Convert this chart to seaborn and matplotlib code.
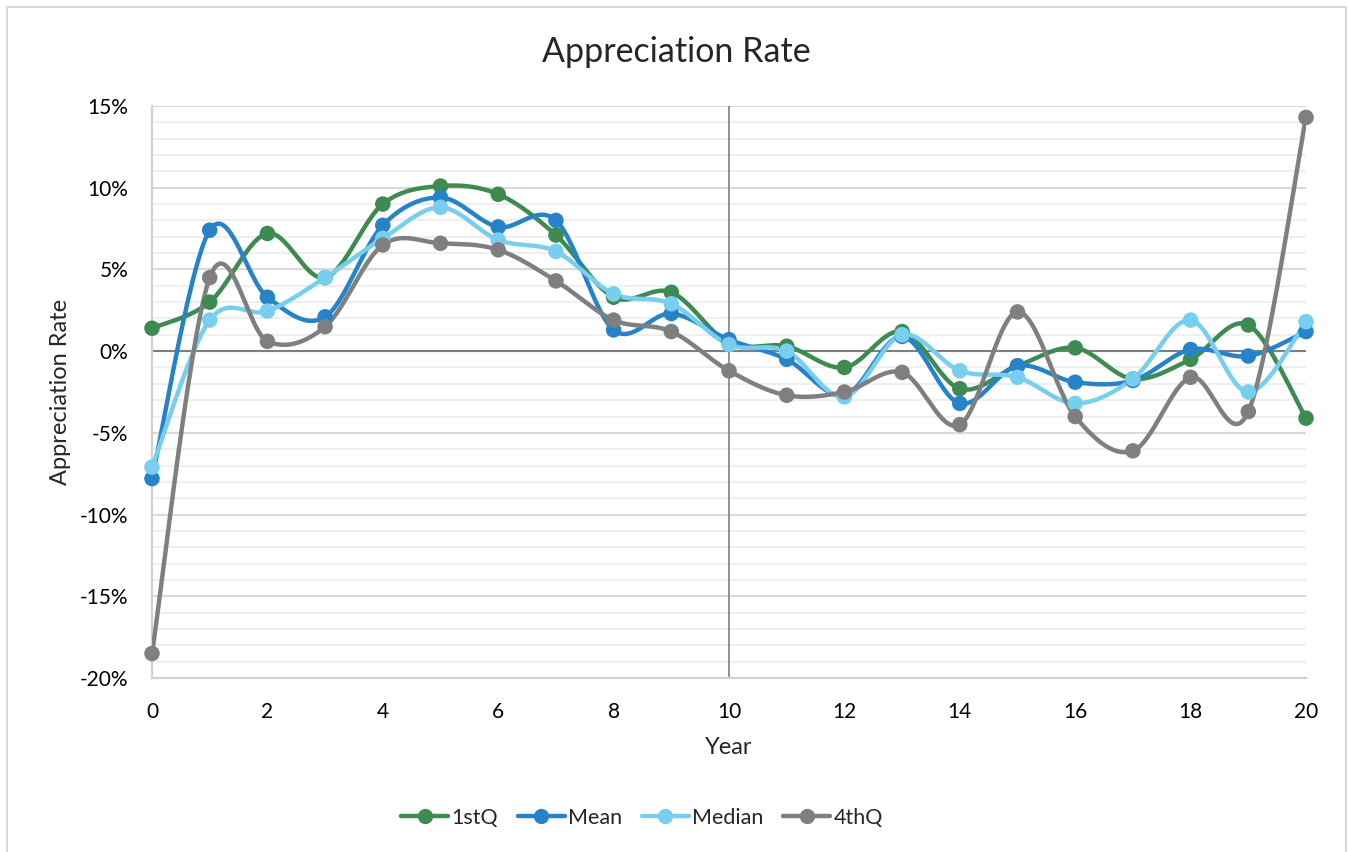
import numpy as np
import pandas as pd
import matplotlib
matplotlib.use("Agg")
import matplotlib.pyplot as plt
from matplotlib.lines import Line2D
from matplotlib.patches import Rectangle
from matplotlib.ticker import FuncFormatter, MultipleLocator
import seaborn as sns

years = list(range(0, 21))
q1 = [1.4, 3.0, 7.2, 4.5, 9.0, 10.1, 9.6, 7.1, 3.3, 3.6, 0.5, 0.3, -1.0, 1.2, -2.3, -0.9, 0.2, -1.7, -0.5, 1.6, -4.1]
mean = [-7.8, 7.4, 3.3, 2.1, 7.7, 9.4, 7.6, 8.0, 1.3, 2.3, 0.7, -0.5, -2.7, 0.9, -3.2, -0.9, -1.9, -1.8, 0.1, -0.3, 1.2]
median = [-7.1, 1.9, 2.45, 4.5, 6.9, 8.8, 6.8, 6.1, 3.5, 2.9, 0.4, 0.0, -2.8, 1.0, -1.2, -1.6, -3.2, -1.7, 1.9, -2.5, 1.8]
q4 = [-18.5, 4.5, 0.6, 1.5, 6.5, 6.6, 6.2, 4.3, 1.9, 1.2, -1.2, -2.7, -2.5, -1.3, -4.5, 2.4, -4.0, -6.1, -1.6, -3.7, 14.3]

series_names = ["1stQ", "Mean", "Median", "4thQ"]
series_values = [q1, mean, median, q4]
colors = ["#3E8B52", "#2783C7", "#77CEEF", "#7F7F7F"]

y_ticks = list(range(-20, 16, 5))
x_ticks = list(range(0, 21, 2))


def smooth(xs, ys, n=30):
    """Excel-like smoothed line (Catmull-Rom Bezier through the points)."""
    p = np.column_stack([xs, ys]).astype(float)
    pts = np.vstack([p[0], p, p[-1]])
    out = []
    t = np.linspace(0, 1, n)[:, None]
    for i in range(1, len(pts) - 2):
        p0, p1, p2, p3 = pts[i - 1], pts[i], pts[i + 1], pts[i + 2]
        c1 = p1 + (p2 - p0) / 6.0
        c2 = p2 - (p3 - p1) / 6.0
        seg = ((1 - t) ** 3) * p1 + 3 * ((1 - t) ** 2) * t * c1 + 3 * (1 - t) * t ** 2 * c2 + t ** 3 * p2
        out.append(seg if i == 1 else seg[1:])
    arr = np.vstack(out)
    return pd.DataFrame({"x": arr[:, 0], "y": arr[:, 1]})


sns.set_theme(style="white")
plt.rcParams["font.family"] = ["Lato", "DejaVu Sans"]

fig = plt.figure(figsize=(13.48, 8.52), dpi=100)
W, H = 1348, 852
ax = fig.add_axes([152 / W, 1 - 678 / H, (1306 - 152) / W, (678 - 106) / H])

# chart border
fig.patches.append(Rectangle((7 / W, -0.02), (1346 - 7) / W, 1 - 7 / H + 0.02,
                             transform=fig.transFigure, fill=False,
                             edgecolor="#D9D9D9", lw=1.5, zorder=0))

ax.set_xlim(0, 20)
ax.set_ylim(-20, 15)
ax.set_xticks(x_ticks)
ax.set_yticks(y_ticks)
ax.yaxis.set_minor_locator(MultipleLocator(1))
ax.yaxis.set_major_formatter(FuncFormatter(lambda v, _: f"{v:.0f}%".replace("\u2212", "-")))
ax.grid(which="minor", axis="y", color="#EFEFEF", lw=1.5, zorder=0)
ax.grid(which="major", axis="y", color="#D9D9D9", lw=1.5, zorder=0)
ax.grid(which="both", axis="x", visible=False)
ax.tick_params(axis="both", which="both", length=0, labelsize=15, colors="#000000")
ax.tick_params(axis="x", pad=17)
ax.tick_params(axis="y", pad=17)
for s in ["top", "right"]:
    ax.spines[s].set_visible(False)
for s in ["left", "bottom"]:
    ax.spines[s].set_color("#D0D0D0")
    ax.spines[s].set_linewidth(1.5)

ax.axhline(0, color="#7F7F7F", lw=1.5, zorder=1)
ax.axvline(10, color="#7F7F7F", lw=1.2, zorder=1)

for name, vals, c in zip(series_names, series_values, colors):
    sm = smooth(years, vals)
    sns.lineplot(data=sm, x="x", y="y", sort=False, estimator=None, color=c,
                 lw=3.2, ax=ax, zorder=3, legend=False)
    sns.scatterplot(x=years, y=vals, color=c, s=125, edgecolor="none",
                    ax=ax, zorder=4, legend=False, clip_on=False)

ax.set_xlabel("Year", fontsize=17)
ax.set_ylabel("Appreciation Rate", fontsize=17)
ax.xaxis.label.set_va("center")
ax.yaxis.label.set_va("center")
ax.xaxis.set_label_coords((729 - 152) / (1306 - 152), -(747 - 678) / (678 - 106))
ax.yaxis.set_label_coords(-(152 - 60) / (1306 - 152), (678 - 392) / (678 - 106))

fig.text(676 / W, 1 - 52 / H, "Appreciation Rate", ha="center", va="center", fontsize=24.5)

handles = [Line2D([0], [0], color=c, lw=3.2, marker="o", markersize=11, markeredgewidth=0)
           for c in colors]
fig.legend(handles, series_names, loc="center", bbox_to_anchor=(642 / W, 1 - 818 / H),
           ncol=4, frameon=False, fontsize=15.5, handlelength=2.2, handletextpad=0.15,
           columnspacing=0.9)

fig.savefig("out.png", dpi=100)
